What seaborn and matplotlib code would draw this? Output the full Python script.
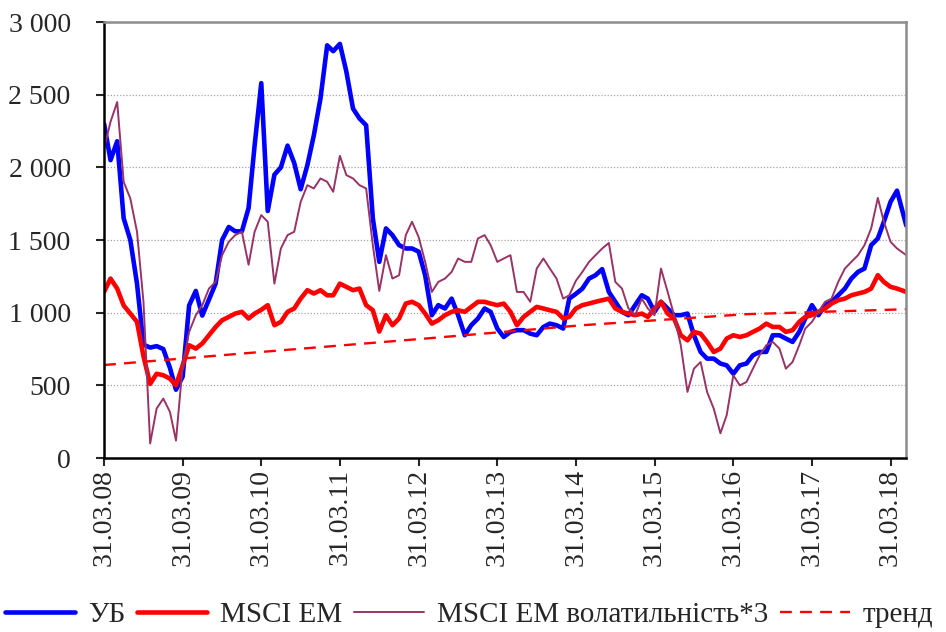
import numpy as np
import pandas as pd
import matplotlib
matplotlib.use("Agg")
import matplotlib.pyplot as plt
import matplotlib.dates as mdates
from matplotlib.ticker import FuncFormatter, MultipleLocator
import seaborn as sns

# ---- data (monthly readings from the reference) ----
dates = list(pd.date_range("2008-03-31", periods=122, freq="ME")) + [pd.Timestamp("2018-06-12")]

ub = [2300, 2050, 2180, 1650, 1500, 1200, 780, 760, 770, 750,
      620, 470, 560, 1050, 1150, 980, 1090, 1200, 1500, 1590,
      1560, 1560, 1720, 2150, 2580, 1700, 1950, 2000, 2150, 2030,
      1850, 2015, 2220, 2475, 2840, 2800, 2850, 2660, 2405, 2337,
      2290, 1650, 1350, 1580, 1534, 1465, 1442, 1442, 1420, 1258,
      983, 1052, 1029, 1097, 983, 845, 914, 960, 1029, 1006,
      891, 833, 868, 880, 880, 856, 845, 902, 925, 914,
      891, 1097, 1130, 1166, 1235, 1258, 1300, 1143, 1075, 1006,
      983, 1052, 1120, 1097, 1006, 1075, 1029, 983, 983, 994,
      845, 730, 684, 684, 650, 638, 580, 638, 650, 707,
      730, 730, 845, 845, 822, 799, 868, 960, 1052, 983,
      1052, 1075, 1120, 1166, 1235, 1281, 1304, 1465, 1511, 1626,
      1763, 1840, 1600]

msci = [1143, 1235, 1166, 1050, 994, 937, 700, 510, 580, 570,
        546, 500, 638, 776, 753, 788, 845, 902, 948, 971,
        994, 1006, 960, 994, 1020, 1052, 914, 937, 1006, 1029,
        1097, 1155, 1132, 1155, 1120, 1120, 1200, 1178, 1155, 1166,
        1052, 1017, 870, 983, 914, 960, 1063, 1075, 1052, 994,
        925, 948, 983, 1006, 1017, 1006, 1040, 1075, 1075, 1063,
        1052, 1063, 1006, 914, 971, 1006, 1040, 1029, 1017, 1006,
        960, 971, 1029, 1052, 1063, 1075, 1086, 1097, 1029, 1006,
        994, 983, 994, 971, 1029, 1075, 994, 960, 845, 810,
        868, 856, 799, 730, 753, 822, 845, 833, 845, 868,
        891, 925, 902, 902, 868, 880, 937, 971, 983, 1006,
        1029, 1063, 1086, 1097, 1120, 1132, 1143, 1166, 1258, 1212,
        1178, 1166, 1143]

vol3 = [2130, 2314, 2450, 1901, 1786, 1557, 1075, 100, 340, 409,
        317, 120, 638, 868, 983, 1052, 1166, 1212, 1396, 1488,
        1534, 1557, 1330, 1557, 1672, 1626, 1200, 1442, 1534, 1557,
        1763, 1878, 1855, 1924, 1901, 1832, 2080, 1947, 1924, 1878,
        1855, 1465, 1150, 1396, 1235, 1258, 1534, 1626, 1520, 1350,
        1143, 1212, 1235, 1281, 1373, 1350, 1350, 1511, 1534, 1465,
        1350, 1373, 1396, 1143, 1143, 1075, 1304, 1373, 1304, 1235,
        1097, 1120, 1220, 1281, 1350, 1396, 1442, 1480, 1212, 1166,
        1029, 983, 1097, 1029, 983, 1304, 1143, 983, 776, 455,
        615, 661, 455, 340, 170, 294, 569, 500, 523, 615,
        707, 776, 799, 753, 615, 661, 776, 891, 937, 1006,
        1075, 1097, 1212, 1304, 1350, 1396, 1465, 1580, 1790, 1626,
        1488, 1442, 1396]

trend_dates = ["2008-03-31", "2010-03-31", "2012-04-30", "2014-04-30", "2016-05-31", "2018-06-12"]
trend_vals = [640, 730, 822, 914, 990, 1024]

labels = ["УБ", "MSCI EM", "MSCI EM волатильність*3", "тренд"]
tick_years = ["2008", "2009", "2010", "2011", "2012", "2013", "2014", "2015", "2016", "2017", "2018"]

df = pd.DataFrame({"date": dates, "ub": ub, "msci": msci, "vol3": vol3})
tdf = pd.DataFrame({"date": pd.to_datetime(trend_dates), "trend": trend_vals})

# ---- style ----
sns.set_style("white")
plt.rcParams["font.family"] = ["Liberation Serif", "DejaVu Serif"]
plt.rcParams["font.size"] = 20

fig = plt.figure(figsize=(9.46, 6.32), dpi=100)
ax = fig.add_axes([0.110, 0.2753, 0.848, 0.6897])

sns.lineplot(data=df, x="date", y="ub", ax=ax, color="#0000FF", lw=3.3, label=labels[0])
sns.lineplot(data=df, x="date", y="msci", ax=ax, color="#FF0000", lw=3.3, label=labels[1])
sns.lineplot(data=df, x="date", y="vol3", ax=ax, color="#993366", lw=1.4, label=labels[2])
sns.lineplot(data=tdf, x="date", y="trend", ax=ax, color="#FF0000", lw=1.7,
             label=labels[3], linestyle=(0, (5, 3.5)))

ax.set_ylim(0, 3000)
ax.set_xlim(pd.Timestamp("2008-03-31"), pd.Timestamp("2018-06-12"))
ax.yaxis.set_major_locator(MultipleLocator(500))
ax.yaxis.set_major_formatter(FuncFormatter(lambda v, p: f"{int(v):,}".replace(",", " ")))
ax.set_xticks([pd.Timestamp(f"{y}-03-31") for y in tick_years])
ax.xaxis.set_major_formatter(mdates.DateFormatter("%d.%m.%y"))
ax.tick_params(axis="x", rotation=90, length=6, width=1.5, direction="out", pad=2, labelsize=20)
ax.tick_params(axis="y", length=6, width=1.5, direction="out", pad=18, labelsize=20)
ax.tick_params(bottom=True, left=True)
ax.set_xlabel("")
ax.set_ylabel("")

ax.grid(axis="y", color="#A6A6A6", lw=0.9, linestyle=(0, (1, 1.5)))
ax.set_axisbelow(True)

for side in ["left", "bottom"]:
    ax.spines[side].set_color("black")
    ax.spines[side].set_linewidth(1.8)
for side in ["top", "right"]:
    ax.spines[side].set_color("#8C8C8C")
    ax.spines[side].set_linewidth(1.8)

handles, labs = ax.get_legend_handles_labels()
ax.get_legend().remove()
fig.legend(handles, labs, loc="center left", bbox_to_anchor=(0.005, 0.027), ncol=4,
           frameon=False, fontsize=21, handlelength=2.4, handletextpad=0.45,
           columnspacing=0.4, borderpad=0.0, borderaxespad=0.0)

fig.savefig("out.png", dpi=100)
